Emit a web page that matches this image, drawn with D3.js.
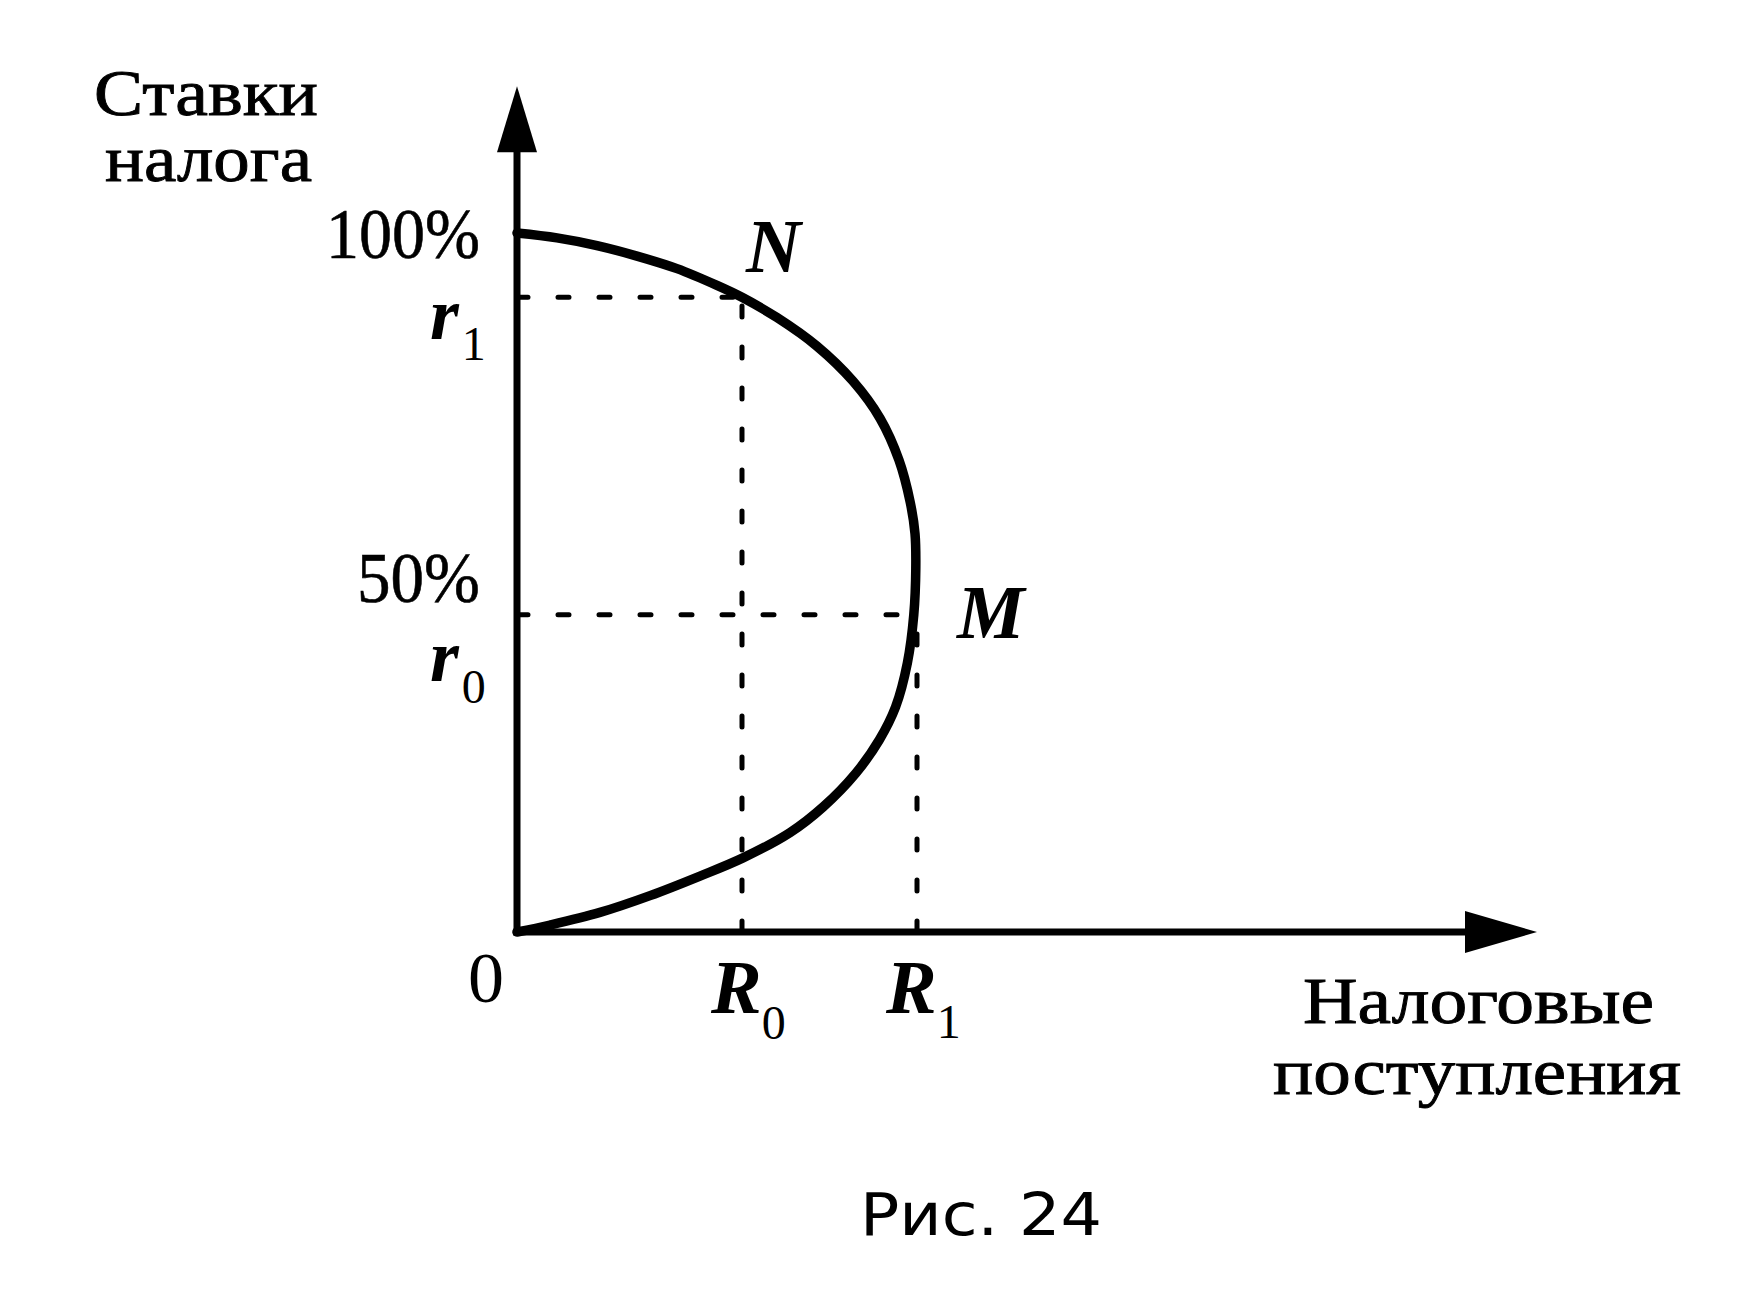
<!DOCTYPE html>
<html>
<head>
<meta charset="utf-8">
<script src="https://cdn.jsdelivr.net/npm/d3@7"></script>
<style>
  html, body { margin: 0; padding: 0; background: #ffffff; }
  svg { display: block; }
</style>
</head>
<body>
<svg id="chart" width="1746" height="1291"></svg>
<script>
// ---------------- data ----------------
// Laffer curve: tax revenue (x, arbitrary units, R1 = 100) vs tax rate (y, % of axis up to 100%)
const curveRevenue = [0, 10, 20, 30, 40, 50, 56.25, 65, 75, 84, 90.75, 95.5, 98.3, 99.5, 99.7, 99.2,
                      97.6, 94.65, 90.6, 84.75, 76.55, 68.2, 56.5, 45.75, 33.25, 20.75, 8.25, 0];
const curveRate    = [100, 99.3, 98.2, 96.7, 94.9, 92.5, 90.8, 87.9, 83.8, 78.8, 73.5, 67.5, 61.5, 57, 52, 45.4,
                      38.5, 32.2, 27.5, 22.75, 17.9, 14.2, 10.6, 8.0, 5.2, 2.8, 1.0, 0];

// reference levels
const revenueR0 = 56.25;   // R0
const revenueR1 = 100;     // R1 (maximum revenue, point M)
const rateR0 = 45.4;       // r0 (= 50%)
const rateR1 = 90.8;       // r1 (point N)

// axis extents
const xAxisMax = 255;
const yAxisMax = 121;

// tick labels on the rate axis
const rateTickLabels = ["100%", "50%"];
const rateTickValues = [100, rateR0];

// texts
const yTitleLines = ["Ставки", "налога"];
const xTitleLines = ["Налоговые", "поступления"];
const caption = "Рис. 24";

// ---------------- drawing ----------------
const svg = d3.select("#chart");
const serif = "'Liberation Serif', 'Times New Roman', serif";
const sans = "'DejaVu Sans', 'Liberation Sans', Arial, sans-serif";

const x = d3.scaleLinear().domain([0, xAxisMax]).range([517, 1537]);
const y = d3.scaleLinear().domain([0, 100]).range([932, 233]);

const ink = "#000";

// dashed guide lines
const guides = [
  [[0, rateR1], [revenueR0, rateR1]],
  [[revenueR0, 0], [revenueR0, rateR1]],
  [[0, rateR0], [revenueR1, rateR0]],
  [[revenueR1, 0], [revenueR1, rateR0]]
];
svg.append("g").selectAll("line").data(guides).join("line")
  .attr("x1", d => x(d[0][0])).attr("y1", d => y(d[0][1]))
  .attr("x2", d => x(d[1][0])).attr("y2", d => y(d[1][1]))
  .attr("stroke", ink).attr("stroke-width", 5)
  .attr("stroke-linecap", "round")
  .attr("stroke-dasharray", "11,30");

// axes
const yTipY = y(yAxisMax);
const xTipX = x(xAxisMax);
svg.append("line")
  .attr("x1", x(0)).attr("y1", y(0) + 3.5)
  .attr("x2", x(0)).attr("y2", yTipY + 40)
  .attr("stroke", ink).attr("stroke-width", 7);
svg.append("line")
  .attr("x1", x(0) - 3.5).attr("y1", y(0))
  .attr("x2", xTipX - 40).attr("y2", y(0))
  .attr("stroke", ink).attr("stroke-width", 7);

// arrow heads
svg.append("path")
  .attr("d", `M${x(0)},${yTipY} L${x(0) - 20},${yTipY + 66} L${x(0) + 20},${yTipY + 66} Z`)
  .attr("fill", ink);
svg.append("path")
  .attr("d", `M${xTipX},${y(0)} L${xTipX - 72},${y(0) - 21} L${xTipX - 72},${y(0) + 21} Z`)
  .attr("fill", ink);

// curve
const pts = curveRevenue.map((r, i) => [r, curveRate[i]]);
const line = d3.line().x(d => x(d[0])).y(d => y(d[1])).curve(d3.curveCatmullRom.alpha(0.5));
svg.append("path")
  .attr("d", line(pts))
  .attr("fill", "none").attr("stroke", ink)
  .attr("stroke-width", 9.5).attr("stroke-linecap", "round").attr("stroke-linejoin", "round");

// axis titles
const yTitlePos = [{x: 94, y: 115, w: 224}, {x: 105, y: 181, w: 207}];
svg.append("g").selectAll("text").data(yTitleLines).join("text")
  .attr("x", (d, i) => yTitlePos[i].x).attr("y", (d, i) => yTitlePos[i].y)
  .attr("textLength", (d, i) => yTitlePos[i].w).attr("lengthAdjust", "spacingAndGlyphs")
  .attr("font-family", serif).attr("font-size", 66).attr("fill", ink)
  .attr("stroke", ink).attr("stroke-width", 0.9)
  .text(d => d);

const xTitlePos = [{x: 1303, y: 1023, w: 351}, {x: 1273, y: 1094, w: 408}];
svg.append("g").selectAll("text").data(xTitleLines).join("text")
  .attr("x", (d, i) => xTitlePos[i].x).attr("y", (d, i) => xTitlePos[i].y)
  .attr("textLength", (d, i) => xTitlePos[i].w).attr("lengthAdjust", "spacingAndGlyphs")
  .attr("font-family", serif).attr("font-size", 66).attr("fill", ink)
  .attr("stroke", ink).attr("stroke-width", 0.9)
  .text(d => d);

// rate tick labels
const tickOffsets = [25, -13];
const tickWidths = [154, 123];
svg.append("g").selectAll("text").data(rateTickValues).join("text")
  .attr("x", (d, i) => x(0) - 37 - tickWidths[i]).attr("y", (d, i) => y(d) + tickOffsets[i])
  .attr("textLength", (d, i) => tickWidths[i]).attr("lengthAdjust", "spacingAndGlyphs")
  .attr("font-family", serif).attr("font-size", 72).attr("fill", ink)
  .attr("stroke", ink).attr("stroke-width", 0.6)
  .text((d, i) => rateTickLabels[i]);

// helper for symbol with subscript
function symbol(xPos, yPos, main, sub, subDx, subDy, mainSize) {
  const t = svg.append("text").attr("x", xPos).attr("y", yPos)
    .attr("font-family", serif).attr("fill", ink);
  t.append("tspan").attr("font-size", mainSize || 76).attr("font-weight", "bold").attr("font-style", "italic").text(main);
  if (sub !== null) {
    t.append("tspan").attr("font-size", 48).attr("dx", subDx).attr("dy", subDy).text(sub);
  }
  return t;
}

// r1, r0 on the rate axis
symbol(x(0) - 87, y(rateR1) + 42, "r", "1", 3, 21, 74);
symbol(x(0) - 87, y(rateR0) + 66, "r", "0", 3, 22, 74);

// origin
svg.append("text").attr("x", x(0) - 31).attr("y", y(0) + 70)
  .attr("text-anchor", "middle")
  .attr("font-family", serif).attr("font-size", 72).attr("fill", ink).text("0");

// R0, R1 on the revenue axis
symbol(x(revenueR0) - 31, y(0) + 81, "R", "0", 0, 26);
symbol(x(revenueR1) - 31, y(0) + 81, "R", "1", 0, 25);

// N and M points
symbol(x(revenueR0) + 4, y(rateR1) - 25, "N", null);
symbol(x(revenueR1) + 40, y(rateR0) + 23, "M", null);

// caption
svg.append("text").attr("x", 860).attr("y", 1235)
  .attr("textLength", 242).attr("lengthAdjust", "spacingAndGlyphs")
  .attr("font-family", sans).attr("font-size", 59).attr("fill", ink)
  .text(caption);
</script>
</body>
</html>
